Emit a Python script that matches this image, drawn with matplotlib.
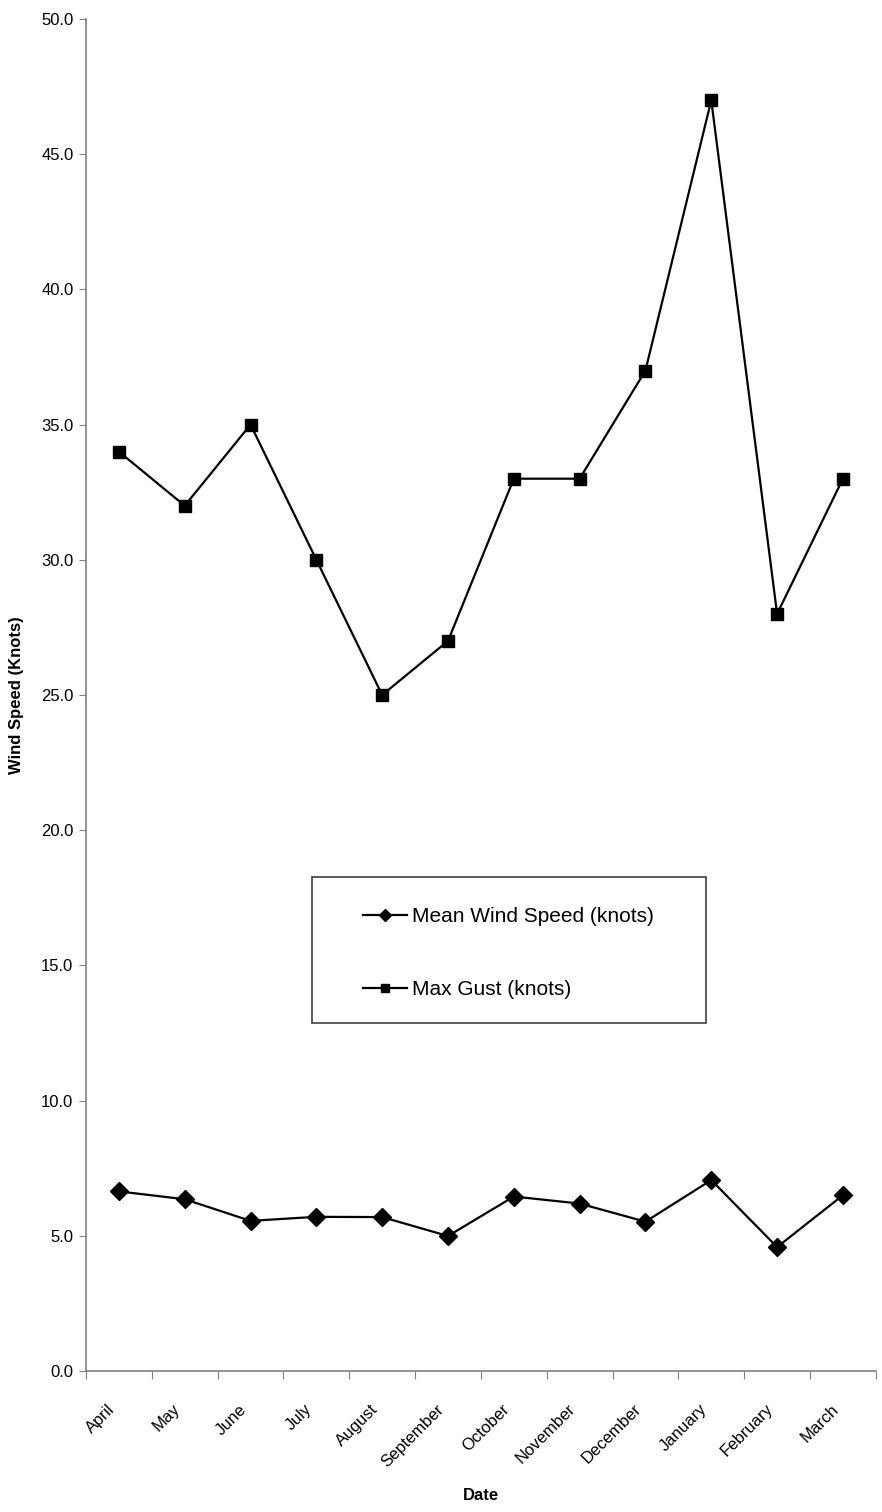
import matplotlib.pyplot as plt
import matplotlib.patches as patches
import matplotlib.transforms as mtransforms
import numpy as np

# Velocidad media y racha máxima del viento por mes (nudos)

meses = ["April", "May", "June", "July", "August", "September",
         "October", "November", "December", "January", "February", "March"]
velocidad_media = [6.64, 6.35, 5.55, 5.70, 5.69, 4.99,
                   6.45, 6.19, 5.52, 7.06, 4.58, 6.50]
racha_maxima = [34, 32, 35, 30, 25, 27, 33, 33, 37, 47, 28, 33]
marcas_y = [0, 5, 10, 15, 20, 25, 30, 35, 40, 45, 50]

plt.rcParams["font.family"] = ["Liberation Sans", "DejaVu Sans"]

fig = plt.figure(figsize=(8.82, 15.12), dpi=100)
ax = fig.add_axes([0.0975, 0.0933, 0.8955, 0.8941])

x = np.arange(len(meses))

ax.plot(x, velocidad_media, color="black", linewidth=1.6, marker="D",
        markersize=9, label="Mean Wind Speed (knots)")
ax.plot(x, racha_maxima, color="black", linewidth=1.6, marker="s",
        markersize=9, label="Max Gust (knots)")

ax.set_xlim(-0.5, len(meses) - 0.5)
ax.set_ylim(0, 50)

ax.set_yticks(marcas_y)
ax.set_yticklabels([f"{v:.1f}" for v in marcas_y], fontsize=12)

# marcas del eje x entre categorías, etiquetas en el centro
ax.set_xticks(np.arange(len(meses) + 1) - 0.5)
ax.set_xticklabels([])
ax.set_xticks(x, minor=True)
ax.set_xticklabels(meses, minor=True, rotation=45, ha="right", va="top",
                   rotation_mode="anchor", fontsize=12)
ax.tick_params(axis="x", which="minor", length=0, pad=22)
ax.tick_params(axis="x", which="major", length=6, color="#808080")
ax.tick_params(axis="y", length=5, color="#808080", pad=4)

# desplazar las etiquetas giradas un poco a la izquierda
desplazamiento = mtransforms.ScaledTranslation(-12 / 100, 0, fig.dpi_scale_trans)
for etiqueta in ax.get_xticklabels(minor=True):
    etiqueta.set_transform(etiqueta.get_transform() + desplazamiento)

for lado in ["top", "right"]:
    ax.spines[lado].set_visible(False)
for lado in ["left", "bottom"]:
    ax.spines[lado].set_color("#808080")
    ax.spines[lado].set_linewidth(1.2)

ax.set_ylabel("Wind Speed (Knots)", fontsize=12, fontweight="bold", labelpad=12)
ax.set_xlabel("Date", fontsize=12, fontweight="bold", labelpad=13)

# recuadro de la leyenda
marco = patches.Rectangle((0.286, 0.257), 0.499, 0.108, transform=ax.transAxes,
                          facecolor="white", edgecolor="#404040", linewidth=1.2,
                          zorder=4)
ax.add_patch(marco)

leyenda = ax.legend(loc="upper left", bbox_to_anchor=(0.351, 0.343),
                    frameon=False, fontsize=15, handlelength=2.1,
                    handletextpad=0.25, labelspacing=2.6, borderpad=0,
                    borderaxespad=0, markerscale=0.7)
leyenda.set_zorder(5)

plt.savefig("out.png", dpi=100)
